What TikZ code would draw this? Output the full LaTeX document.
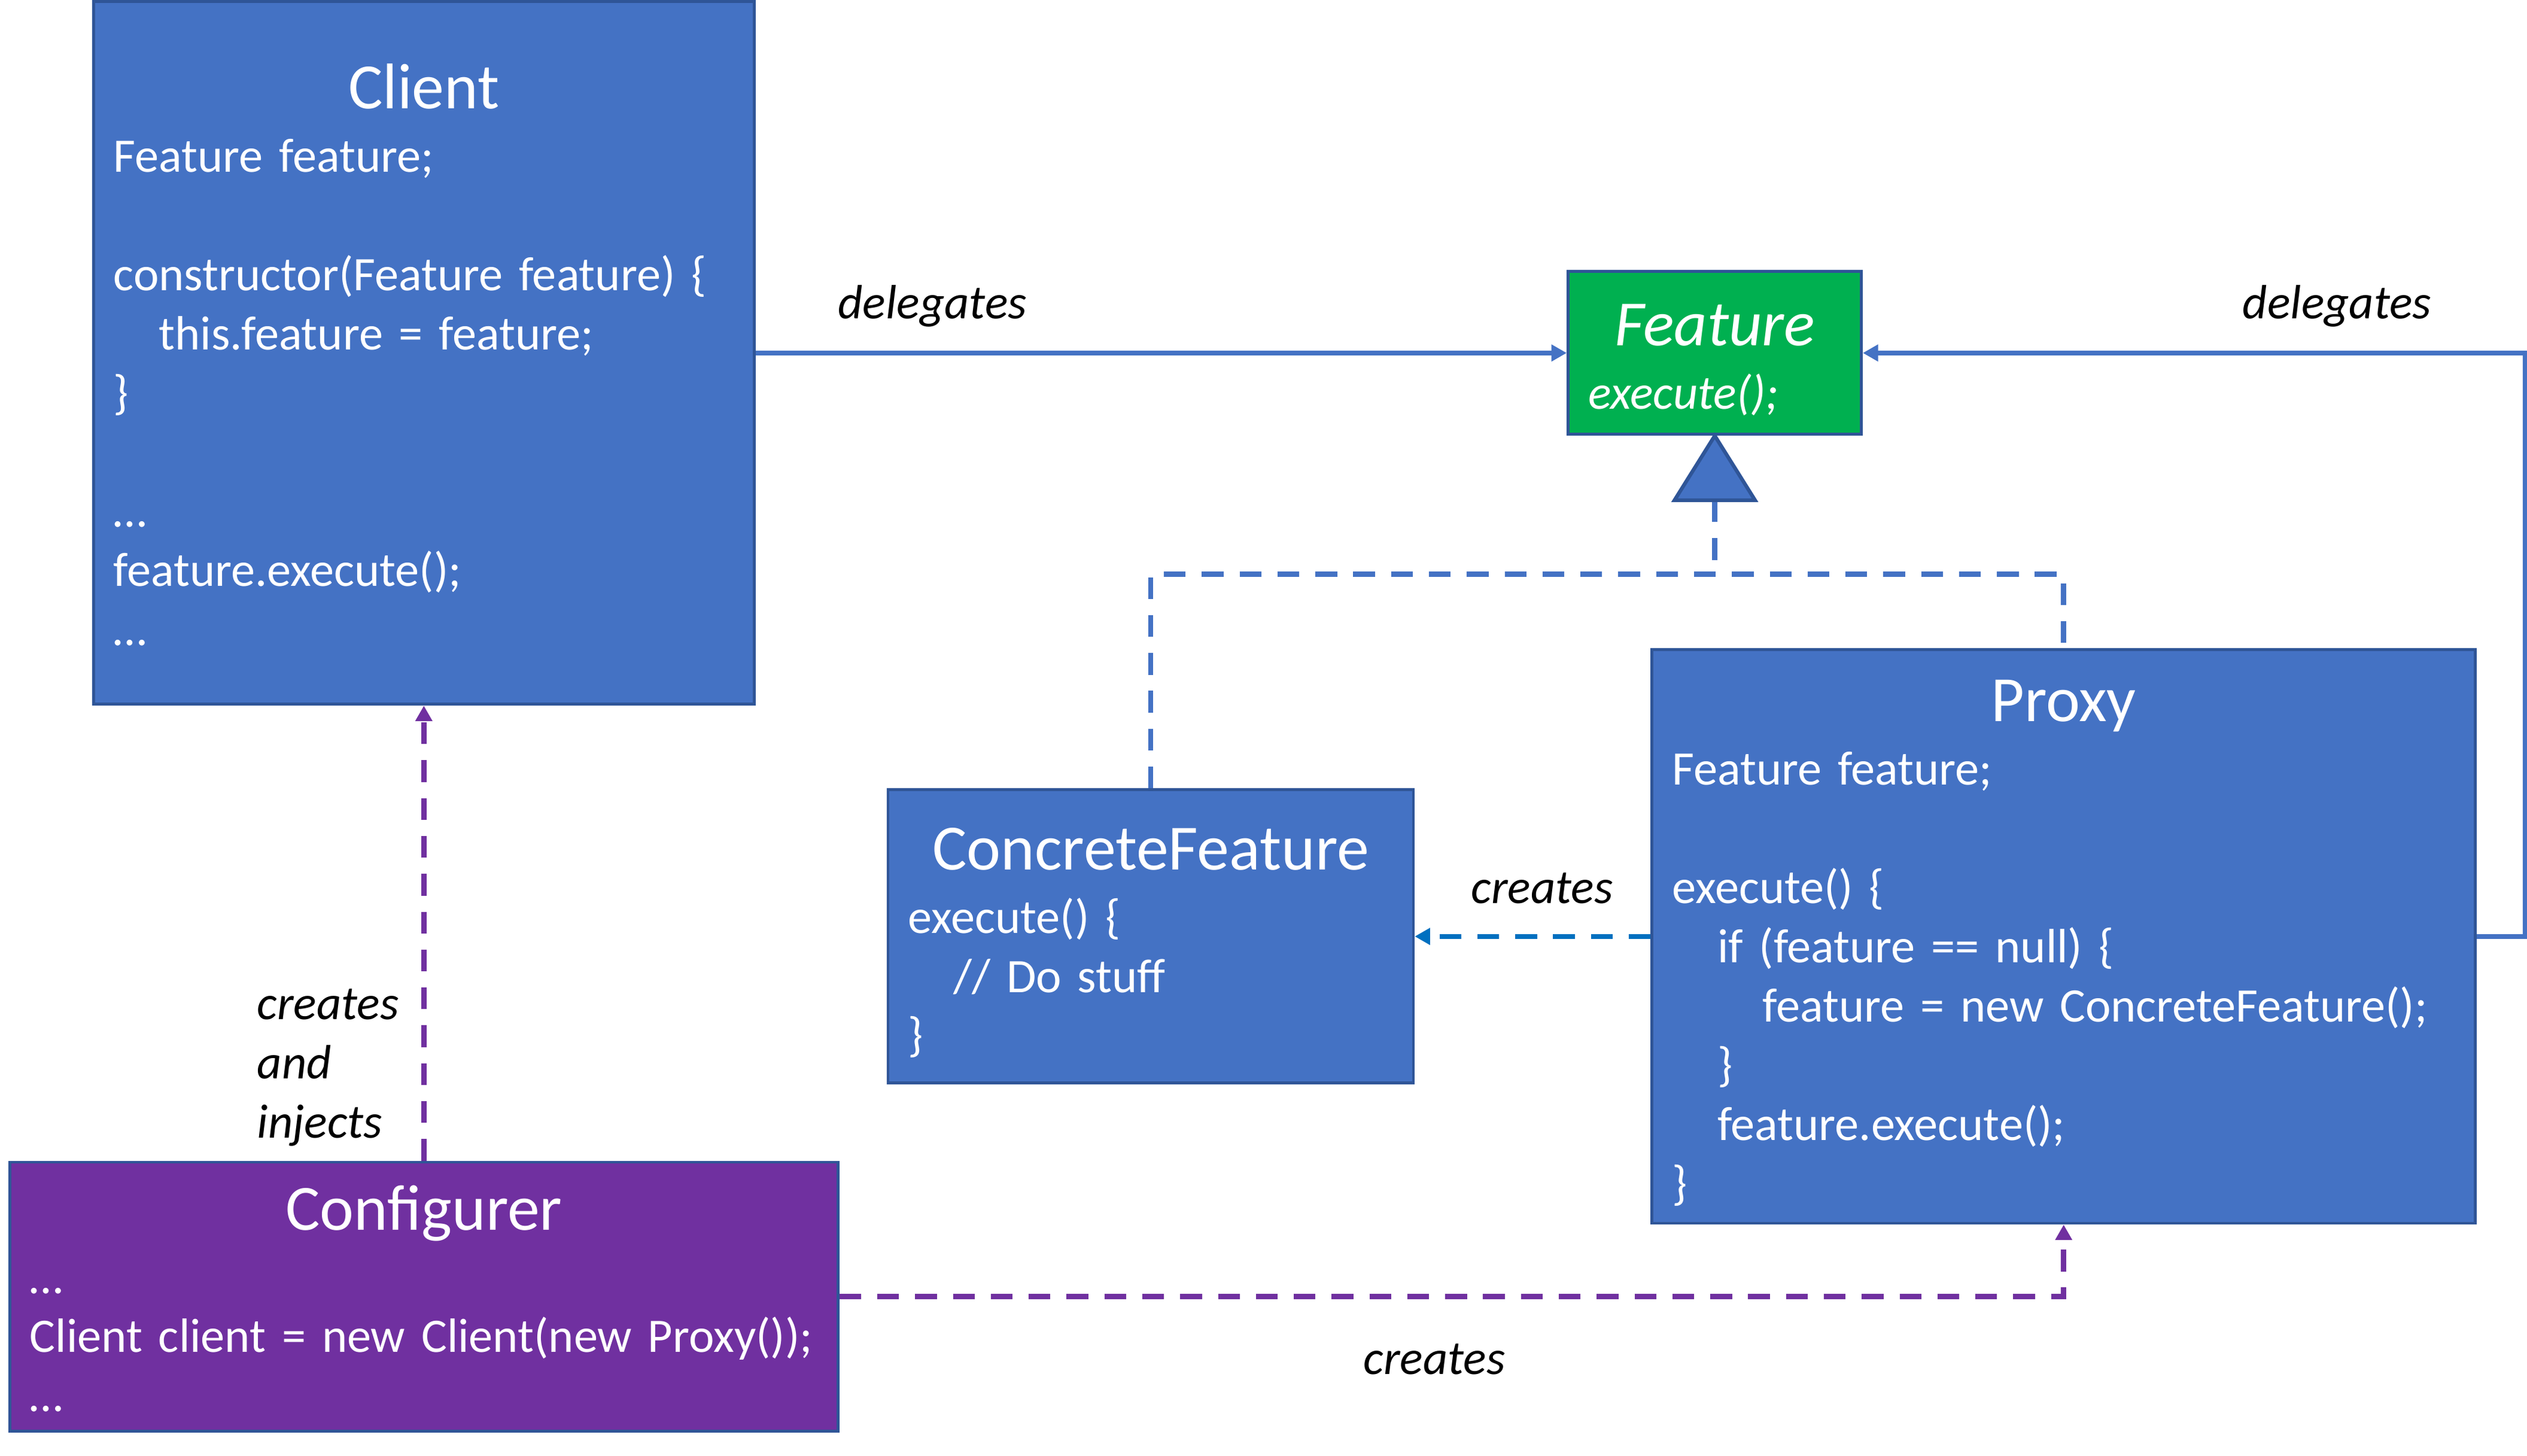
\documentclass[tikz,border=0pt]{standalone}
\usepackage{fontspec}
\setmainfont{Carlito}
\usetikzlibrary{arrows.meta}
\definecolor{boxblue}{HTML}{4472C4}
\definecolor{boxline}{HTML}{2F5597}
\definecolor{featgreen}{HTML}{00B050}
\definecolor{cfgpurple}{HTML}{7030A0}
\definecolor{newblue}{HTML}{0070C0}
\setlength{\parindent}{0pt}
\newcommand{\ind}{\hspace*{16pt}}
\newcommand{\classtitle}[1]{\makebox[\hsize]{\rule{0pt}{21pt}\fontsize{22.8}{27}\selectfont #1}\\[1.5pt]}
\newcommand{\skipline}{\\[20.9pt]}
\newcommand{\laststrut}{\rule[-4pt]{0pt}{4pt}}
\begin{document}
\begin{tikzpicture}[x=0.02cm, y=-0.02cm, >={Triangle[length=0.19cm,width=0.2cm]},
		every node/.style={font=\fontsize{17}{20.9}\selectfont},
		cls/.style={draw=boxline, line width=1pt, fill=boxblue, text=white, inner xsep=0.25cm, inner ysep=0pt, align=left},
		lbl/.style={font=\fontsize{17}{20.9}\selectfont\itshape, inner sep=0pt},
		deleg/.style={draw=boxblue, line width=1.8pt, ->},
		impl/.style={draw=boxblue, line width=1.8pt, dash pattern=on 0.27cm off 0.2cm},
		uses/.style={line width=1.8pt, dash pattern=on 0.27cm off 0.2cm, ->}]
			\path[use as bounding box] (0,0) rectangle (1568,903);
			\node[cls, minimum width=8.2cm, minimum height=8.72cm, text width=7.7cm] (client) at (263,219) {%
				\classtitle{Client}
				Feature feature;\skipline
				constructor(Feature feature) \{\\
				\ind this.feature = feature;\\
				\}\skipline
				…\\
				feature.execute();\\
				…\laststrut};
			\node[cls, fill=featgreen, font=\fontsize{17}{20.9}\selectfont\itshape, minimum width=3.64cm, minimum height=2.02cm, text width=3.14cm] (feature) at (1064,219) {%
				\classtitle{Feature}
				execute();\laststrut};
			\node[cls, minimum width=6.52cm, minimum height=3.64cm, text width=6.02cm] (concrete) at (714,581) {%
				\classtitle{ConcreteFeature}
				execute() \{\\
				\ind // Do stuff\\
				\}\laststrut};
			\node[cls, minimum width=10.22cm, minimum height=7.12cm, text width=9.72cm] (proxy) at (1280.5,581) {%
				\classtitle{Proxy}
				Feature feature;\skipline
				execute() \{\\
				\ind if (feature == null) \{\\
				\ind\ind feature = new ConcreteFeature();\\
				\ind \}\\
				\ind feature.execute();\\
				\}\laststrut};
			\node[cls, fill=cfgpurple, minimum width=10.28cm, minimum height=3.34cm, text width=9.78cm] (config) at (263,804.5) {%
				\classtitle{Configurer}
				…\\
				\mbox{Client client = new Client(new Proxy());}\\
				…\laststrut};
			\path
			(feature.south) ++(0,-0.8cm) coordinate (inh)
			++(0,-0.92cm) coordinate (junc)
			;
			\draw[impl] (inh) -- (junc);
			\draw[impl] (concrete.north) |- (junc) -| (proxy.north);
			\draw[draw=boxline, fill=boxblue, line width=1.3pt] (feature.south) -- ([xshift=-0.5cm]inh) -- ([xshift=0.5cm]inh) -- cycle;
			\draw[deleg] (client.east) -- node[lbl, pos=0.218, yshift=0.58cm] {delegates} (feature.west);
			\draw[deleg] (proxy.east) -- ++(0.6cm,0) |- node[lbl, pos=0.642, yshift=0.58cm] {delegates} (feature.east);
			\draw[uses, draw=newblue] (proxy.west) -- node[lbl, pos=0.46, yshift=0.6cm] {creates} (concrete.east);
			\draw[uses, draw=cfgpurple] (config.north) -- node[lbl, pos=0.205, left=0.28cm, align=left] {creates\\and\\injects} (client.south);
			\draw[uses, draw=cfgpurple] (config.east) -| node[lbl, pos=0.243, yshift=-0.78cm] {creates} (proxy.south);
		\end{tikzpicture}
\end{document}
